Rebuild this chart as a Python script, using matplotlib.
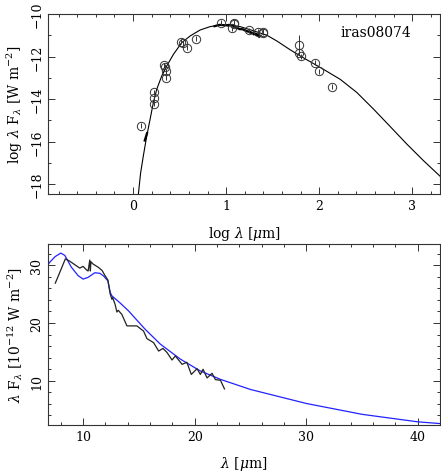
import numpy as np
import matplotlib
matplotlib.use("Agg")
import matplotlib.pyplot as plt
from matplotlib.ticker import MultipleLocator

plt.rcParams['font.family'] = 'DejaVu Serif'
plt.rcParams['mathtext.fontset'] = 'dejavuserif'

# photometry (log lambda [um], log lambda F_lambda [W m^-2])
phot_logl = [0.09, 0.22, 0.22, 0.22, 0.33, 0.34, 0.35, 0.35, 0.52, 0.54, 0.58, 0.68,
             0.95, 1.08, 1.08, 1.06, 1.25, 1.34, 1.40, 1.40, 1.78, 1.78, 1.81, 1.95, 2.00, 2.14]
phot_logf = [-15.26, -13.69, -13.97, -14.21, -12.41, -12.48, -12.70, -12.99, -11.30, -11.37,
             -11.58, -11.15, -10.40, -10.42, -10.46, -10.67, -10.77, -10.83, -10.84, -10.87,
             -11.47, -11.81, -11.99, -12.28, -12.69, -13.41]
phot_err = [0.12] * 26
phot_err[20] = 0.47

# model SED, top panel
mod_logl = [0.057, 0.08, 0.11, 0.147, 0.183, 0.218, 0.254, 0.308, 0.362, 0.434, 0.524,
            0.613, 0.72, 0.828, 0.935, 1.04, 1.15, 1.29, 1.44, 1.55, 1.688, 1.80, 2.046,
            2.226, 2.405, 2.584, 2.763, 2.943, 3.122, 3.3]
mod_logf = [-18.46, -17.5, -16.67, -15.73, -14.94, -14.16, -13.54, -12.91, -12.44, -11.89,
            -11.34, -11.03, -10.75, -10.59, -10.52, -10.52, -10.59, -10.78, -11.0, -11.28,
            -11.68, -11.98, -12.6, -13.07, -13.69, -14.47, -15.29, -16.12, -16.9, -17.63]

# short optical spectrum piece
opt_logl = [0.125, 0.15]
opt_logf = [-15.95, -15.6]

# model, bottom panel (lambda [um], lambda F_lambda [1e-12 W m^-2])
blue_l = [6.9, 7.0, 7.5, 8.0, 8.36, 8.95, 9.55, 10.0, 10.45, 11.05, 11.5, 11.83, 12.22,
          12.43, 12.58, 13.3, 14.07, 15.57, 16.92, 18.72, 20.51, 22.31, 25.0, 30.0,
          35.0, 40.0, 42.0]
blue_f = [30.2, 30.5, 31.5, 32.1, 31.7, 29.65, 28.2, 27.6, 27.9, 28.7, 28.6, 28.15, 27.3,
          25.3, 24.7, 23.5, 22.1, 18.9, 16.35, 13.75, 11.7, 10.25, 8.5, 6.08, 4.2, 2.9, 2.6]

# ISO spectrum
spec_l = [7.51, 8.41, 8.8, 9.25, 9.7, 10.0, 10.3, 10.45, 10.6, 10.65, 10.7, 10.9, 11.35,
          11.7, 11.98, 12.22, 12.43, 12.58, 12.65, 12.87, 13.03, 13.15, 13.47, 13.93,
          14.82, 15.42, 15.72, 16.32, 16.77, 17.16, 17.52, 17.97, 18.27, 18.87, 19.3,
          19.70, 20.21, 20.51, 20.75, 21.11, 21.56, 21.86, 22.31, 22.67]
spec_f = [26.9, 31.1, 30.7, 30.1, 29.5, 29.8, 29.2, 29.0, 30.9, 29.0, 30.6, 30.2, 29.65,
          29.1, 28.15, 27.45, 25.0, 24.1, 24.4, 23.2, 21.9, 22.2, 21.5, 19.5, 19.5, 18.6,
          17.3, 16.6, 15.15, 15.6, 14.9, 13.6, 14.3, 12.85, 13.2, 11.1, 12.1, 11.1, 12.0,
          10.5, 11.3, 10.2, 10.1, 8.6]

name = 'iras08074'

fig = plt.figure(figsize=(4.41, 4.77), dpi=100)
ax1 = fig.add_axes([0.109, 0.591, 0.889, 0.3774])
ax2 = fig.add_axes([0.109, 0.1075, 0.889, 0.378])

edge = '#333333'
ax1.plot(mod_logl, mod_logf, color='black', lw=0.8)
ax1.plot(np.log10(spec_l), np.log10(np.array(spec_f) * 1e-12), color='black', lw=1.6)
ax1.plot(opt_logl, opt_logf, color='black', lw=1.6)
ax1.errorbar(phot_logl, phot_logf, yerr=phot_err, fmt='o', mfc='none', mec=edge,
             ecolor=edge, ms=6, mew=0.7, elinewidth=0.7, capsize=0)
ax1.text(0.835, 0.9, name, transform=ax1.transAxes, ha='center', va='center', fontsize=10)
ax1.set_xlim(-0.914, 3.3)
ax1.set_ylim(-18.47, -10)
ax1.xaxis.set_major_locator(MultipleLocator(1))
ax1.xaxis.set_minor_locator(MultipleLocator(0.2))
ax1.yaxis.set_major_locator(MultipleLocator(2))
ax1.yaxis.set_minor_locator(MultipleLocator(1))
ax1.set_xlabel(r'log $\lambda$ [$\mu$m]', fontsize=10, labelpad=9)
ax1.set_ylabel(r'log $\lambda$ F$_\lambda$ [W m$^{-2}$]', fontsize=10, labelpad=4)

ax2.plot(blue_l, blue_f, color='#2222ff', lw=0.9)
ax2.plot(spec_l, spec_f, color='#222222', lw=0.9)
ax2.set_xlim(6.86, 42)
ax2.set_ylim(2.4, 33.6)
ax2.xaxis.set_major_locator(MultipleLocator(10))
ax2.xaxis.set_minor_locator(MultipleLocator(2))
ax2.yaxis.set_major_locator(MultipleLocator(10))
ax2.yaxis.set_minor_locator(MultipleLocator(2))
ax2.set_xlabel(r'$\lambda$ [$\mu$m]', fontsize=10, labelpad=8)
ax2.set_ylabel(r'$\lambda$ F$_\lambda$ [10$^{-12}$ W m$^{-2}$]', fontsize=10, labelpad=4)

for ax in (ax1, ax2):
    ax.tick_params(which='both', direction='in', top=True, right=True, labelsize=9,
                   width=0.7, color='#333333')
    ax.tick_params(which='major', length=5)
    ax.tick_params(which='minor', length=2.5)
    for s in ax.spines.values():
        s.set_linewidth(0.8)
        s.set_color('#333333')
    for lab in ax.get_yticklabels():
        lab.set_rotation(90)
        lab.set_va('center')

fig.savefig('out.png', dpi=100)
